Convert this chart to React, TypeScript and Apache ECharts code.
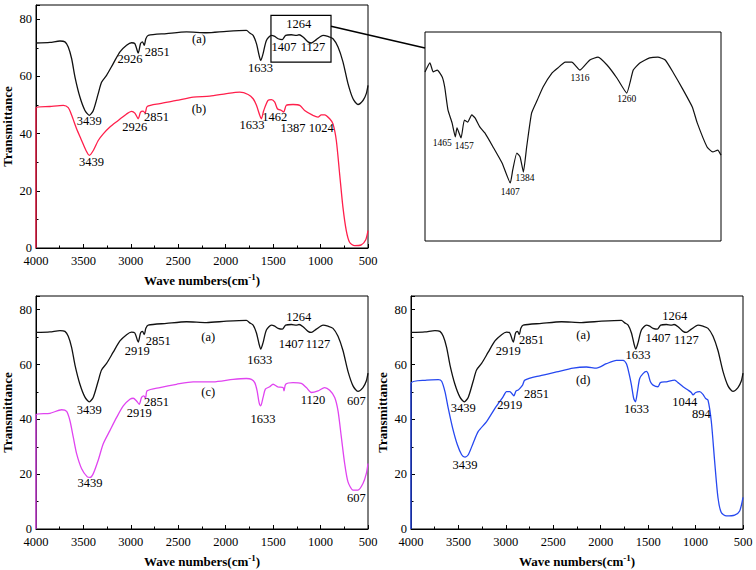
import React, { useEffect, useRef } from "react";
import * as echarts from "echarts";

// Curve (a) – shared by the three panels
const W_A = [4000,3853,3747,3695,3660,3624,3589,3537,3484,3438,3396,3344,3309,3256,3186,3115,3045,2993,2958,2922,2898,2877,2859,2842,2817,2624,2413,2203,1992,1782,1747,1711,1676,1648,1631,1606,1571,1518,1483,1448,1403,1368,1308,1255,1227,1185,1132,1097,1045,974,922,869,816,764,711,658,606,553,518,500];
const T_A = [71.7,71.9,72.4,72.1,70.3,66.2,59.8,52.8,48.1,46.4,48.1,54.0,58.0,60.4,64.5,68.6,70.9,71.8,71.5,68.2,71.5,72.1,70.9,73.2,74.4,75.0,75.6,75.3,75.8,76.1,75.2,74.4,71.5,67.4,65.6,68.0,72.6,74.4,74.0,73.2,72.9,74.4,74.6,74.4,74.6,73.8,72.1,71.7,72.9,74.4,74.0,73.2,70.3,65.1,57.5,52.2,50.2,51.6,54.0,56.9];

// Curve (b) – red
const W_B = [4000,4000,3853,3712,3660,3624,3572,3519,3473,3438,3396,3344,3291,3221,3133,3045,2993,2958,2922,2898,2870,2849,2828,2694,2519,2343,2168,1992,1852,1764,1711,1676,1641,1624,1599,1554,1518,1483,1455,1413,1389,1361,1290,1220,1168,1080,1027,992,957,904,869,834,799,764,729,694,641,571,525,500];
const T_B = [0,49.1,49.5,49.9,49.1,46.4,41.7,37.6,34.1,32.4,34.1,37.6,39.9,42.3,44.6,46.9,47.8,47.2,45.2,47.5,47.9,47.2,49.5,50.5,51.6,52.8,53.1,54.0,54.5,53.7,52.2,49.9,46.4,45.2,48.1,51.6,51.9,51.0,48.7,48.1,47.5,49.9,50.2,49.9,48.1,46.4,45.8,46.6,46.6,45.2,43.4,37.6,25.9,14.2,6.1,2.0,0.8,1.1,2.8,6.1];

// Curve (c) – magenta
const W_C = [4000,4000,3853,3730,3677,3642,3607,3572,3519,3459,3431,3396,3344,3291,3221,3150,3080,3010,2975,2940,2912,2887,2863,2845,2828,2694,2519,2343,2133,1922,1782,1729,1694,1669,1648,1631,1606,1582,1536,1501,1448,1396,1385,1368,1290,1203,1150,1097,1027,957,904,851,816,781,746,711,658,606,553,518,500];
const T_C = [0,41.7,42.2,43.5,42.9,39.5,33.5,27.5,22.0,19.0,18.8,20.2,25.1,31.1,35.9,40.7,44.9,47.3,47.7,46.7,45.5,48.0,48.6,47.7,50.4,51.6,52.8,53.7,53.7,54.6,54.9,54.6,53.4,50.4,46.1,44.9,48.0,51.0,51.9,52.8,51.8,51.6,50.4,52.8,53.4,53.1,51.6,49.8,50.4,51.6,50.6,48.0,43.1,33.5,23.9,17.2,14.2,14.2,16.6,20.2,23.9];

// Curve (d) – blue
const W_D = [4000,4000,3835,3712,3677,3642,3607,3561,3512,3466,3431,3396,3344,3291,3203,3115,3028,2993,2958,2930,2915,2894,2870,2852,2824,2800,2642,2466,2291,2150,2045,1940,1834,1764,1729,1701,1676,1652,1634,1613,1589,1554,1518,1501,1476,1448,1396,1371,1308,1220,1185,1132,1080,1045,1027,999,957,922,894,869,834,799,764,729,676,588,535,500];
const T_D = [0,53.1,54.3,54.5,53.9,50.1,44.0,36.8,30.8,27.1,26.2,27.1,31.4,35.6,39.2,44.0,48.3,50.1,50.1,49.1,48.6,50.3,50.7,51.3,52.5,54.3,55.9,57.3,58.7,59.1,58.7,60.3,61.5,61.5,60.3,56.7,52.5,47.6,46.4,50.1,54.9,56.7,57.5,56.7,53.7,52.5,51.9,53.4,53.7,54.3,53.4,51.9,50.7,49.8,48.9,49.8,50.1,49.1,47.6,47.0,39.2,24.7,11.5,6.0,4.8,5.1,6.6,11.5];

// Inset (zoom of curve a, 1510–1150 cm-1, relative scale)
const W_I = [1510,1504,1500,1495,1489,1486,1482,1477,1473,1471,1466,1462,1458,1453,1449,1443,1437,1427,1416,1406,1403,1398,1394,1390,1386,1380,1373,1366,1355,1348,1339,1331,1321,1309,1299,1288,1276,1264,1256,1248,1236,1226,1217,1207,1195,1184,1178,1166,1159,1153,1149];
const T_I = [80.9,85.2,80.9,81.8,78.5,73.7,62.7,56.5,49.8,54.1,49.3,57.9,56.9,60.3,58.9,54.5,51.7,45.0,37.3,27.8,34.0,42.1,40.2,33.0,45.0,61.2,67.5,73.7,80.4,82.8,85.6,85.6,81.8,86.6,88.0,84.2,78.0,70.8,81.8,85.2,87.6,88.0,86.6,80.4,72.2,64.1,56.5,45.0,42.6,43.5,41.1];

// Peak annotations: [wavenumber, transmittance, text]
const LBL_TL = [[2282,73.2,"(a)"],[2282,48.7,"(b)"],[3010,66.2,"2926"],[2722,68.6,"2851"],[3438,44.4,"3439"],[1634,63.1,"1633"],[1230,78.3,"1264"],[1385,70.3,"1407"],[1080,70.3,"1127"],[3414,30.0,"3439"],[2958,42.3,"2926"],[2729,45.8,"2851"],[1722,42.9,"1633"],[1483,45.8,"1462"],[1290,41.9,"1387"],[992,41.9,"1024"]];
const LBL_BL = [[2185,70.1,"(a)"],[2185,50.0,"(c)"],[2933,64.8,"2919"],[2712,68.7,"2851"],[1641,61.8,"1633"],[1231,77.5,"1264"],[1308,67.5,"1407"],[1027,67.5,"1127"],[623,46.7,"607"],[3438,43.5,"3439"],[2912,42.5,"2919"],[2729,46.5,"2851"],[1606,40.1,"1633"],[1080,47.0,"1120"],[3431,16.6,"3439"],[623,11.2,"607"]];
const LBL_BR = [[2185,70.6,"(a)"],[2185,54.3,"(d)"],[2975,65.1,"2919"],[2729,68.8,"2851"],[1606,63.3,"1633"],[1220,77.8,"1264"],[1396,69.6,"1407"],[1097,69.1,"1127"],[3449,44.0,"3439"],[2958,45.2,"2919"],[2677,49.1,"2851"],[1624,43.8,"1633"],[1115,46.4,"1044"],[939,41.9,"894"],[3431,23.5,"3439"]];
const LBL_IN = [[1489,46.9,"1465"],[1462,45.5,"1457"],[1406,23.4,"1407"],[1388,30.1,"1384"],[1321,78.0,"1316"],[1264,67.9,"1260"]];

// Highlight box in panel (b) region and connector anchors
const BOX = [[1523, 81.4], [890, 65.0]];
const CONNECT_FROM = [890, 77.6];
const CONNECT_TO = [1510, 92.3];

const SERIF = "'Liberation Serif', 'Times New Roman', serif";

const zip = (w: number[], t: number[]) => {
  const n = Math.min(w.length, t.length);
  const out: number[][] = [];
  for (let i = 0; i < n; i++) out.push([w[i], t[i]]);
  return out;
};

function xAxis(gridIndex: number) {
  return {
    type: "value",
    gridIndex,
    min: 500,
    max: 4000,
    interval: 500,
    inverse: true,
    position: "bottom",
    name: "{b|Wave numbers(cm}{s|-1}{b|)}",
    nameLocation: "middle",
    nameGap: 24,
    nameTextStyle: {
      rich: {
        b: { fontFamily: SERIF, fontWeight: "bold", fontSize: 13, color: "#000", lineHeight: 16 },
        s: { fontFamily: SERIF, fontWeight: "bold", fontSize: 9, color: "#000", padding: [0, 0, 7, 0], lineHeight: 16 },
      },
    },
    axisLine: { show: true, onZero: false, lineStyle: { color: "#000", width: 1 } },
    axisTick: { show: true, inside: true, length: 4, lineStyle: { color: "#000" } },
    minorTick: { show: true, splitNumber: 2, length: 2.5, lineStyle: { color: "#000" } },
    axisLabel: { fontFamily: SERIF, fontSize: 12.5, color: "#000", margin: 6, formatter: (v: number) => String(v) },
    splitLine: { show: false },
  };
}

function yAxis(gridIndex: number) {
  return {
    type: "value",
    gridIndex,
    min: 0,
    max: 85,
    interval: 20,
    name: "Transmittance",
    nameLocation: "middle",
    nameGap: 22,
    nameRotate: 90,
    nameTextStyle: { fontFamily: SERIF, fontWeight: "bold", fontSize: 13, color: "#000" },
    axisLine: { show: true, onZero: false, lineStyle: { color: "#000", width: 1 } },
    axisTick: { show: true, inside: true, length: 4, lineStyle: { color: "#000" } },
    minorTick: { show: true, splitNumber: 2, length: 2.5, lineStyle: { color: "#000" } },
    axisLabel: { fontFamily: SERIF, fontSize: 12.5, color: "#000", margin: 4, showMaxLabel: false },
    splitLine: { show: false },
  };
}

function curve(idx: number, w: number[], t: number[], color: string, extra: any = {}) {
  return {
    type: "line",
    xAxisIndex: idx,
    yAxisIndex: idx,
    data: zip(w, t),
    showSymbol: false,
    symbol: "none",
    smooth: 0.25,
    lineStyle: { color, width: 1.3 },
    silent: true,
    z: 3,
    ...extra,
  };
}

export default function App() {
  const ref = useRef<HTMLDivElement>(null);
  useEffect(() => {
    if (!ref.current) return;
    const chart = echarts.init(ref.current, undefined, { renderer: "svg" });
    const gridBase = { show: true, borderColor: "#000", borderWidth: 1, backgroundColor: "transparent", containLabel: false };
    const option: any = {
      animation: false,
      backgroundColor: "#fff",
      grid: [
        { ...gridBase, left: 36, top: 5, width: 332, height: 243 },
        { ...gridBase, left: 36, top: 296, width: 332, height: 235 },
        { ...gridBase, left: 411, top: 296, width: 332, height: 235 },
        { ...gridBase, left: 425, top: 32, width: 296, height: 209 },
      ],
      xAxis: [
        xAxis(0),
        xAxis(1),
        xAxis(2),
        { type: "value", gridIndex: 3, min: 1149, max: 1510, inverse: true, show: false },
      ],
      yAxis: [
        yAxis(0),
        yAxis(1),
        yAxis(2),
        { type: "value", gridIndex: 3, min: 0, max: 100, show: false },
      ],
      series: [
        curve(0, W_A, T_A, "#111", {
          markArea: {
            silent: true,
            itemStyle: { color: "rgba(0,0,0,0)", borderColor: "#000", borderWidth: 1.2 },
            data: [[{ coord: BOX[0] }, { coord: BOX[1] }]],
          },
        }),
        curve(0, W_B, T_B, "#ff1f4b"),
        curve(1, W_A, T_A, "#111"),
        curve(1, W_C, T_C, "#e044f0"),
        curve(2, W_A, T_A, "#111"),
        curve(2, W_D, T_D, "#2648f0"),
        curve(3, W_I, T_I, "#111", { smooth: 0.15, lineStyle: { color: "#111", width: 1.2 } }),
      ],
    };
    chart.setOption(option);

    // annotations placed through each grid's own scales
    const graphics: any[] = [];
    const addLabels = (gridIndex: number, list: any[], size: number) => {
      list.forEach((d) => {
        const p = chart.convertToPixel({ gridIndex } as any, [d[0], d[1]]) as number[];
        if (!p) return;
        graphics.push({
          type: "text",
          x: p[0],
          y: p[1],
          silent: true,
          z: 10,
          style: {
            text: d[2],
            fill: "#000",
            font: `${size}px ${SERIF}`,
            align: "center",
            verticalAlign: "middle",
          },
        });
      });
    };
    addLabels(0, LBL_TL, 12.5);
    addLabels(1, LBL_BL, 12.5);
    addLabels(2, LBL_BR, 12.5);
    addLabels(3, LBL_IN, 9.5);

    const p1 = chart.convertToPixel({ gridIndex: 0 } as any, CONNECT_FROM) as number[];
    const p2 = chart.convertToPixel({ gridIndex: 3 } as any, CONNECT_TO) as number[];
    if (p1 && p2) {
      graphics.push({
        type: "line",
        shape: { x1: p1[0], y1: p1[1], x2: p2[0], y2: p2[1] },
        style: { stroke: "#000", lineWidth: 1.5 },
        silent: true,
      });
    }
    chart.setOption({ graphic: graphics });
    return () => chart.dispose();
  }, []);
  return (
    <div
      ref={ref}
      style={{ position: "fixed", left: 0, top: 0, width: 756, height: 570, background: "#fff" }}
    />
  );
}
